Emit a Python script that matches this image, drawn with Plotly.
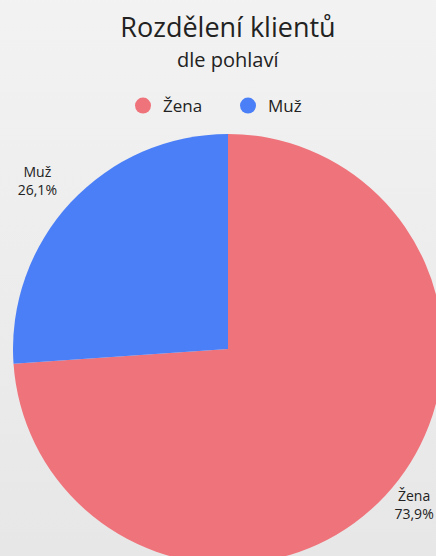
import base64
import plotly.graph_objects as go

labels = ["Žena", "Muž"]
values = [73.9, 26.1]
colors = ["#EF737B", "#4B7FF7"]

title_text = "Rozdělení klientů"
subtitle_text = "dle pohlaví"

FONT = "Open Sans"
W, H = 456, 572
T, PH = 134, 430  # top margin and plot height (px)

svg = ('<svg xmlns="http://www.w3.org/2000/svg" width="100" height="100" preserveAspectRatio="none">'
       '<defs><linearGradient id="g" x1="0" y1="0" x2="0" y2="1">'
       '<stop offset="0" stop-color="#F4F4F4"/><stop offset="1" stop-color="#E5E5E5"/>'
       '</linearGradient></defs><rect width="100" height="100" fill="url(#g)"/></svg>')
bg_uri = "data:image/svg+xml;base64," + base64.b64encode(svg.encode()).decode()

# blank line under the Muž label lifts it away from the pie like in the reference
templates = ["%{label}<br>%{percent:.1%}", "%{label}<br>%{percent:.1%}<br>\u00a0"]

fig = go.Figure()
fig.add_trace(go.Pie(
    labels=labels, values=values,
    marker=dict(colors=colors, line=dict(width=0)),
    sort=False, direction="clockwise", rotation=0,
    textposition="outside",
    texttemplate=templates,
    textfont=dict(family=FONT, size=14, color="#222222"),
    showlegend=False, hoverinfo="label+percent",
))
for lab, col in zip(labels, colors):
    fig.add_trace(go.Scatter(x=[None], y=[None], mode="markers", name=lab,
                             marker=dict(symbol="circle", size=16, color=col)))

fig.update_layout(
    width=W, height=H,
    margin=dict(l=13, r=13, t=T, b=H - T - PH, autoexpand=False),
    paper_bgcolor="#EEEEEE", plot_bgcolor="rgba(0,0,0,0)",
    separators=", ",
    font=dict(family=FONT, color="#222222"),
    title=dict(text=title_text, x=0.5, xanchor="center", xref="paper",
               y=1 - 28 / H, yref="container", yanchor="middle",
               font=dict(size=27, family=FONT, color="#222222")),
    annotations=[dict(text=subtitle_text, x=0.5, xref="paper", xanchor="center",
                      y=(T + PH - 60) / PH, yref="paper", yanchor="middle", showarrow=False,
                      font=dict(size=20, family=FONT, color="#222222"))],
    legend=dict(orientation="h", x=0.5, xanchor="center", y=1 - 88 / H, yref="container",
                yanchor="top", font=dict(size=17, family=FONT, color="#222222"),
                entrywidth=60, bgcolor="rgba(0,0,0,0)"),
    xaxis=dict(visible=False), yaxis=dict(visible=False),
    images=[dict(source=bg_uri, xref="paper", yref="paper", x=-0.2, y=1.5,
                 sizex=1.4, sizey=1.7, sizing="stretch", layer="below",
                 xanchor="left", yanchor="top")],
)

fig.write_html("out.html", post_script="document.documentElement.style.overflow='hidden';document.body.style.overflow='hidden';document.body.style.margin='0';")
